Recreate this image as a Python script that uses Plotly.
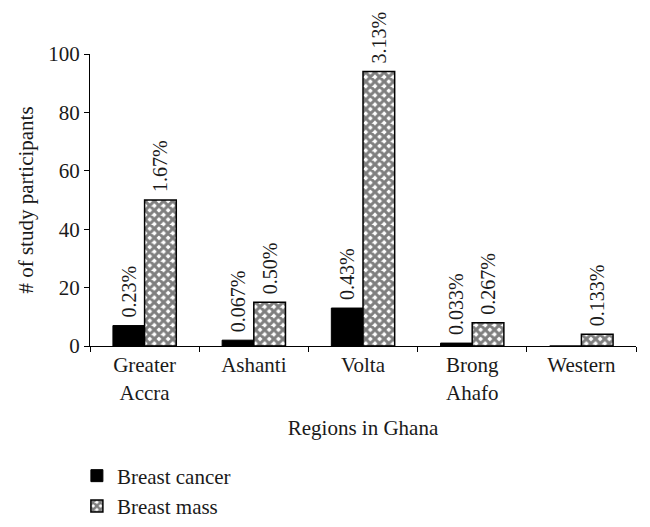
import plotly.graph_objects as go

regions = ["Greater<br>Accra", "Ashanti", "Volta", "Brong<br>Ahafo", "Western"]
cancer = [7, 2, 13, 1, 0]
mass = [50, 15, 94, 8, 4]
cancer_pct = ["0.23%", "0.067%", "0.43%", "0.033%", ""]
mass_pct = ["1.67%", "0.50%", "3.13%", "0.267%", "0.133%"]

FONT = "Liberation Serif"
FS = 21
NB = "\u00a0"

fig = go.Figure()
fig.add_trace(go.Bar(
    name="Breast cancer", x=regions, y=cancer,
    text=[NB + t if t else "" for t in cancer_pct],
    textposition="outside", textangle=-90,
    constraintext="none", cliponaxis=False,
    textfont=dict(family=FONT, size=20, color="#1a1a1a"),
    marker=dict(color="black", line=dict(color="black", width=1)),
))
fig.add_trace(go.Bar(
    name="Breast mass", x=regions, y=mass,
    text=[NB + t for t in mass_pct],
    textposition="outside", textangle=-90,
    constraintext="none", cliponaxis=False,
    textfont=dict(family=FONT, size=20, color="#1a1a1a"),
    marker=dict(color="white", line=dict(color="black", width=1.5),
                pattern=dict(shape="x", fgcolor="#000", bgcolor="white",
                             size=6.5, solidity=0.72)),
))

# the page body adds an 8px offset, so the figure is sized to fit inside it
fig.update_layout(
    width=634, height=511,
    margin=dict(l=82, r=6, t=46, b=173, autoexpand=False),
    paper_bgcolor="white", plot_bgcolor="white",
    font=dict(family=FONT, size=FS, color="#1a1a1a"),
    barmode="group", bargap=0.42, bargroupgap=0,
    legend=dict(x=-0.024, y=-0.375, xanchor="left", yanchor="top",
                font=dict(family=FONT, size=FS, color="#1a1a1a"),
                tracegroupgap=0, itemwidth=30),
    showlegend=True,
)
fig.update_xaxes(
    showline=True, linecolor="black", linewidth=1,
    ticks="outside", tickson="boundaries", ticklen=5, tickcolor="black",
    showgrid=False, zeroline=False,
    title=dict(text="Regions in Ghana", font=dict(family=FONT, size=FS), standoff=16),
    tickfont=dict(family=FONT, size=FS),
)
fig.update_yaxes(
    range=[0, 100], tickvals=[0, 20, 40, 60, 80, 100],
    showline=True, linecolor="black", linewidth=1,
    ticks="outside", ticklen=5, tickcolor="black",
    showgrid=False, zeroline=False,
    title=dict(text="# of study participants", font=dict(family=FONT, size=FS), standoff=8),
    tickfont=dict(family=FONT, size=FS),
)

fig.write_html("out.html")
